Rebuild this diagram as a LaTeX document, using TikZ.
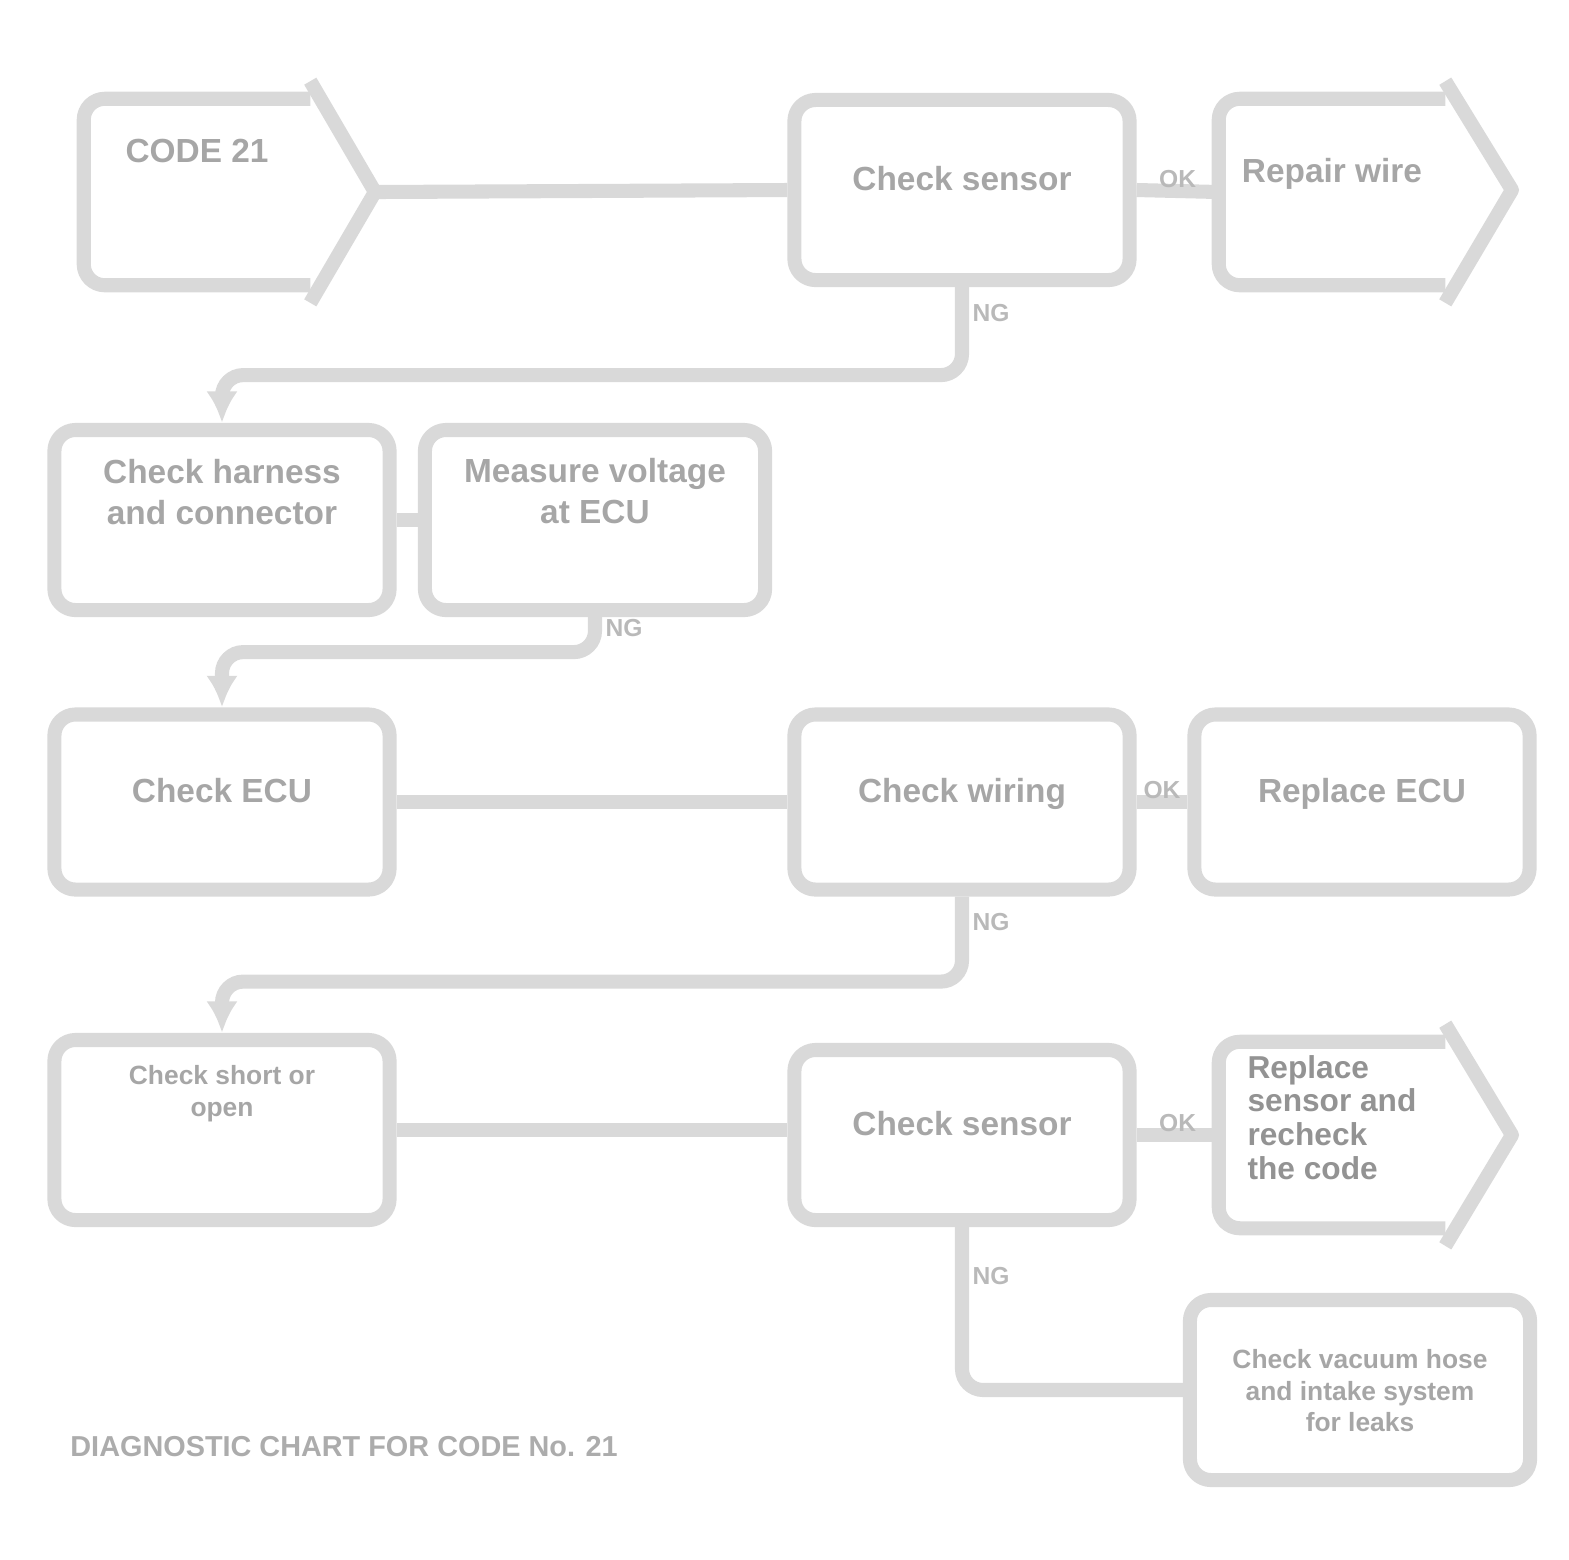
\documentclass[tikz,border=0pt]{standalone}
\usepackage{fontspec}
\setsansfont{Liberation Sans}
\usetikzlibrary{arrows.meta}
\newcommand\lifted[2]{\raisebox{#1}[0pt][0pt]{\begin{tabular}{@{}c@{}}#2\end{tabular}}}
\newcommand\liftedl[2]{\raisebox{#1}[0pt][0pt]{\begin{tabular}{@{}l@{}}#2\end{tabular}}}
\tikzset{
	outline/.style={draw=gray!30, line width=4pt, line join=round},
	frame/.style={rectangle, minimum width=2.25cm, minimum height=1.85cm, inner sep=0pt,
		font=\sffamily\bfseries\fontsize{9.5}{11.5}\selectfont, text=gray!70},
	box/.style={frame, outline, rounded corners=6pt, minimum width=3.35cm, minimum height=1.8cm},
	small/.style={font=\sffamily\bfseries\fontsize{7.5}{9}\selectfont},
	link/.style={draw=gray!30, line width=4pt, rounded corners=6pt},
	tag/.style={font=\sffamily\bfseries\fontsize{7}{8}\selectfont, text=gray!55, inner sep=1pt},
}
\begin{document}
\begin{tikzpicture}[x=0.01cm,y=-0.01cm]
	\useasboundingbox (0,0) rectangle (1569,1559);
	% first row
	\node[frame] (a) at (197,192) {\lifted{0.3cm}{CODE 21}};
	\coordinate (atip) at (375,192);
	\draw[outline, rounded corners=6pt] (a.north east) -- (a.north west) -- (a.south west) -- (a.south east);
	\draw[outline] ([yshift=5pt]a.north east) -- (atip) -- ([yshift=-5pt]a.south east);
	\node[box] (b) at (962,190) {\lifted{0cm}{Check sensor}};
	\node[frame] (c) at (1332,192) {\lifted{0.1cm}{Repair wire}};
	\coordinate (ctip) at (1512,190);
	\draw[outline, rounded corners=6pt] (c.north east) -- (c.north west) -- (c.south west) -- (c.south east);
	\draw[outline] ([yshift=5pt]c.north east) -- (ctip) -- ([yshift=-5pt]c.south east);
	\draw[link] (atip) -- (b.west);
	\draw[link] (b.east) -- (c.west) node[tag, midway, above=-2pt]{OK};
	% second row
	\node[box] (d) at (222,520) {\lifted{0.16cm}{Check harness\\and connector}};
	\node[box, minimum width=3.4cm] (e) at (595,520) {\lifted{0.17cm}{Measure voltage\\at ECU}};
	\draw[link] (d.east) -- (e.west);
	\draw[link, -{Latex[length=9pt,width=9pt]}] (b.south) -- ++(0,88) node[tag, pos=0.3, right]{NG} -| (d.north);
	% third row
	\node[box, minimum height=1.75cm] (f) at (222,802) {\lifted{0cm}{Check ECU}};
	\node[box, minimum height=1.75cm] (g) at (962,802) {\lifted{0cm}{Check wiring}};
	\node[box, minimum height=1.75cm] (h) at (1362,802) {\lifted{0cm}{Replace ECU}};
	\draw[link, -{Latex[length=9pt,width=9pt]}] (e.south) -- ++(0,35) node[tag, pos=0.3, right]{NG} -| (f.north);
	\draw[link] (f.east) -- (g.west);
	\draw[link] (g.east) -- (h.west) node[tag, midway, above=-2pt]{OK};
	% fourth row
	\node[box, small] (i) at (222,1130) {\lifted{0.3cm}{Check short or\\open}};
	\node[box, minimum height=1.7cm] (j) at (962,1135) {\lifted{0cm}{Check sensor}};
	\node[frame, text=gray!85, font=\sffamily\bfseries\fontsize{9}{9.6}\selectfont] (k) at (1332,1135) {\liftedl{0.05cm}{Replace\\sensor and\\recheck\\the code}};
	\coordinate (ktip) at (1512,1135);
	\draw[outline, rounded corners=6pt] (k.north east) -- (k.north west) -- (k.south west) -- (k.south east);
	\draw[outline] ([yshift=5pt]k.north east) -- (ktip) -- ([yshift=-5pt]k.south east);
	\draw[link, -{Latex[length=9pt,width=9pt]}] (g.south) -- ++(0,85) node[tag, pos=0.3, right]{NG} -| (i.north);
	\draw[link] (i.east) -- (i.east -| j.west);
	\draw[link] (j.east) -- (j.east -| k.west) node[tag, midway, above=-2pt]{OK};
	% last box
	\node[box, small, minimum width=3.4cm] (l) at (1360,1390) {\lifted{-0.1cm}{Check vacuum hose\\and intake system\\for leaks}};
	\draw[link] (j.south) |- (l.west) node[tag, pos=0.15, right]{NG};
	\node[anchor=west, font=\sffamily\bfseries\fontsize{8.2}{10}\selectfont, text=gray!65] (cap) at (58,1447) {DIAGNOSTIC CHART FOR CODE No. 21};
\end{tikzpicture}
\end{document}
